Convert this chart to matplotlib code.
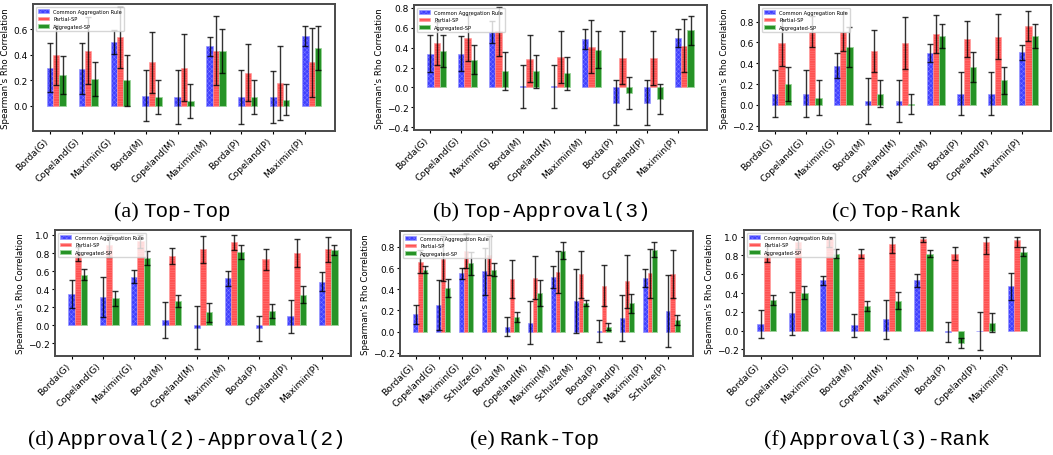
import matplotlib
matplotlib.use("Agg")
import matplotlib.pyplot as plt
from matplotlib.ticker import MultipleLocator
import numpy as np

# ---------------------------------------------------------------- data
labels9 = ["Borda(G)", "Copeland(G)", "Maximin(G)", "Borda(M)", "Copeland(M)",
           "Maximin(M)", "Borda(P)", "Copeland(P)", "Maximin(P)"]
labels12 = ["Borda(G)", "Copeland(G)", "Maximin(G)", "Schulze(G)",
            "Borda(M)", "Copeland(M)", "Maximin(M)", "Schulze(M)",
            "Borda(P)", "Copeland(P)", "Maximin(P)", "Schulze(P)"]

series_names = ["Common Aggregation Rule", "Partial-SP", "Aggregated-SP"]

# (a) Top-Top
tt_common = [0.30, 0.29, 0.50, 0.08, 0.07, 0.465, 0.07, 0.07, 0.545]
tt_common_sd = [0.19, 0.20, 0.095, 0.20, 0.21, 0.075, 0.21, 0.205, 0.08]
tt_partial = [0.40, 0.43, 0.535, 0.34, 0.30, 0.43, 0.26, 0.18, 0.34]
tt_partial_sd = [0.235, 0.26, 0.24, 0.24, 0.26, 0.27, 0.225, 0.29, 0.27]
tt_aggr = [0.24, 0.21, 0.20, 0.07, 0.04, 0.43, 0.07, 0.05, 0.45]
tt_aggr_sd = [0.15, 0.135, 0.20, 0.135, 0.13, 0.17, 0.13, 0.12, 0.17]

# (b) Top-Approval(3)
ta_common = [0.34, 0.34, 0.555, 0.01, 0.01, 0.485, -0.155, -0.155, 0.495]
ta_common_sd = [0.19, 0.18, 0.11, 0.22, 0.22, 0.10, 0.225, 0.225, 0.09]
ta_partial = [0.445, 0.495, 0.565, 0.29, 0.305, 0.41, 0.30, 0.295, 0.42]
ta_partial_sd = [0.215, 0.23, 0.245, 0.24, 0.26, 0.27, 0.27, 0.27, 0.265]
ta_aggr = [0.37, 0.28, 0.165, 0.16, 0.14, 0.38, -0.055, -0.12, 0.575]
ta_aggr_sd = [0.16, 0.145, 0.19, 0.165, 0.165, 0.19, 0.16, 0.15, 0.145]

# (c) Top-Rank
tr_common = [0.11, 0.11, 0.375, 0.04, 0.04, 0.50, 0.11, 0.11, 0.505]
tr_common_sd = [0.23, 0.225, 0.12, 0.22, 0.20, 0.085, 0.205, 0.205, 0.07]
tr_partial = [0.595, 0.705, 0.705, 0.52, 0.595, 0.68, 0.635, 0.655, 0.755]
tr_partial_sd = [0.225, 0.145, 0.19, 0.20, 0.25, 0.185, 0.17, 0.215, 0.145]
tr_aggr = [0.20, 0.07, 0.555, 0.11, 0.01, 0.66, 0.365, 0.235, 0.66]
tr_aggr_sd = [0.16, 0.165, 0.19, 0.13, 0.10, 0.115, 0.14, 0.125, 0.115]

# (d) Approval(2)-Approval(2)
aa_common = [0.345, 0.315, 0.54, 0.06, -0.025, 0.52, -0.035, 0.10, 0.48]
aa_common_sd = [0.155, 0.22, 0.07, 0.20, 0.24, 0.085, 0.14, 0.18, 0.105]
aa_partial = [0.79, 0.885, 0.93, 0.765, 0.84, 0.92, 0.73, 0.80, 0.84]
aa_partial_sd = [0.08, 0.13, 0.075, 0.09, 0.145, 0.09, 0.12, 0.155, 0.14]
aa_aggr = [0.56, 0.30, 0.745, 0.27, 0.145, 0.81, 0.16, 0.34, 0.83]
aa_aggr_sd = [0.06, 0.085, 0.08, 0.07, 0.105, 0.08, 0.08, 0.095, 0.055]

# (e) Rank-Top
rt_common = [0.165, 0.25, 0.55, 0.57, 0.047, 0.085, 0.515, 0.29, 0.005, 0.13, 0.505, 0.195]
rt_common_sd = [0.09, 0.235, 0.055, 0.22, 0.09, 0.20, 0.105, 0.30, 0.105, 0.22, 0.085, 0.34]
rt_partial = [0.66, 0.69, 0.76, 0.72, 0.495, 0.51, 0.565, 0.54, 0.435, 0.475, 0.55, 0.545]
rt_partial_sd = [0.11, 0.21, 0.16, 0.185, 0.18, 0.205, 0.20, 0.22, 0.19, 0.25, 0.23, 0.225]
rt_aggr = [0.585, 0.41, 0.645, 0.585, 0.14, 0.365, 0.765, 0.27, 0.047, 0.27, 0.775, 0.11]
rt_aggr_sd = [0.035, 0.085, 0.11, 0.06, 0.045, 0.12, 0.08, 0.025, 0.035, 0.09, 0.07, 0.05]

# (f) Approval(3)-Rank
ar_common = [0.07, 0.185, 0.535, 0.055, 0.12, 0.535, -0.015, -0.005, 0.47]
ar_common_sd = [0.145, 0.23, 0.05, 0.12, 0.21, 0.07, 0.11, 0.205, 0.14]
ar_partial = [0.82, 0.94, 0.97, 0.82, 0.925, 0.97, 0.82, 0.94, 0.96]
ar_partial_sd = [0.085, 0.07, 0.08, 0.045, 0.095, 0.03, 0.07, 0.125, 0.075]
ar_aggr = [0.325, 0.405, 0.82, 0.26, 0.32, 0.82, -0.13, 0.085, 0.84]
ar_aggr_sd = [0.05, 0.07, 0.045, 0.05, 0.09, 0.035, 0.055, 0.10, 0.05]

caption_tags = ["(a)", "(b)", "(c)", "(d)", "(e)", "(f)"]
caption_titles = ["Top-Top", "Top-Approval(3)", "Top-Rank",
                  "Approval(2)-Approval(2)", "Rank-Top", "Approval(3)-Rank"]

# ---------------------------------------------------------------- figure
W, H = 1053, 456
fig = plt.figure(figsize=(W / 100, H / 100), dpi=100)
plt.rcParams["hatch.linewidth"] = 0.3


def axes_px(left, top, right, bottom):
    return fig.add_axes([left / W, 1 - bottom / H, (right - left) / W, (bottom - top) / H])


styles = [
    dict(color="blue", edgecolor="#9a9aff", hatch="xxxxxxx", alpha=0.75),
    dict(color="red", edgecolor="#ff9c9c", hatch="-------", alpha=0.68),
    dict(color="green", edgecolor="#9ad49a", alpha=0.85),
]


def draw_panel(ax, labels, groups, ylim):
    x = np.arange(len(labels))
    width = 0.2
    for i, ((vals, sds), name, style) in enumerate(zip(groups, series_names, styles)):
        vals = np.asarray(vals, dtype=float)
        sds = np.asarray(sds, dtype=float)
        upper = np.minimum(sds, 1.0 - vals)  # correlation cannot exceed 1
        ax.bar(x + i * width, vals, width, yerr=[sds, upper], label=name,
               linewidth=0.7,
               error_kw=dict(ecolor="black", elinewidth=1.0, capsize=2,
                             capthick=1.0, alpha=0.8),
               **style)
    ax.set_xticks(x)
    ax.set_xticklabels(labels, rotation=45, ha="right", fontsize=6.7)
    ax.set_ylim(*ylim)
    ax.yaxis.set_major_locator(MultipleLocator(0.2))
    ax.set_ylabel("Spearman's Rho Correlation", fontsize=6.2, labelpad=2)
    ax.tick_params(axis="y", labelsize=6.5, length=2.5, width=0.8, pad=1.5)
    ax.tick_params(axis="x", length=2.5, width=0.8, pad=1)
    for s in ax.spines.values():
        s.set_linewidth(1.4)
        s.set_color("#4a4a4a")
    ax.legend(loc="upper left", fontsize=3.7, handlelength=2.2, borderpad=0.45,
              labelspacing=0.45, borderaxespad=0.5)


panels = [
    ((33, 5, 335, 132), labels9,
     [(tt_common, tt_common_sd), (tt_partial, tt_partial_sd), (tt_aggr, tt_aggr_sd)],
     (-0.195, 0.795)),
    ((414, 6, 707, 131), labels9,
     [(ta_common, ta_common_sd), (ta_partial, ta_partial_sd), (ta_aggr, ta_aggr_sd)],
     (-0.43, 0.83)),
    ((759, 6, 1051, 132), labels9,
     [(tr_common, tr_common_sd), (tr_partial, tr_partial_sd), (tr_aggr, tr_aggr_sd)],
     (-0.25, 0.96)),
    ((55, 231, 351, 357), labels9,
     [(aa_common, aa_common_sd), (aa_partial, aa_partial_sd), (aa_aggr, aa_aggr_sd)],
     (-0.34, 1.055)),
    ((400, 232, 693, 357), labels12,
     [(rt_common, rt_common_sd), (rt_partial, rt_partial_sd), (rt_aggr, rt_aggr_sd)],
     (-0.23, 0.95)),
    ((744, 231, 1040, 357), labels9,
     [(ar_common, ar_common_sd), (ar_partial, ar_partial_sd), (ar_aggr, ar_aggr_sd)],
     (-0.27, 1.07)),
]

for box, labels, groups, ylim in panels:
    ax = axes_px(*box)
    draw_panel(ax, labels, groups, ylim)

# sub-captions: serif tag followed by a typewriter title
caption_starts = [143, 463, 861, 58, 499, 790]
caption_baselines = [217, 217, 217, 445, 445, 445]
for tag, title, sx, by in zip(caption_tags, caption_titles, caption_starts, caption_baselines):
    fig.text((sx - 4) / W, 1 - by / H, tag, ha="right", va="baseline",
             family="Liberation Serif", fontsize=16)
    fig.text(sx / W, 1 - by / H, title, ha="left", va="baseline",
             family="Liberation Mono", fontsize=15)

fig.savefig("out.png", dpi=100)
